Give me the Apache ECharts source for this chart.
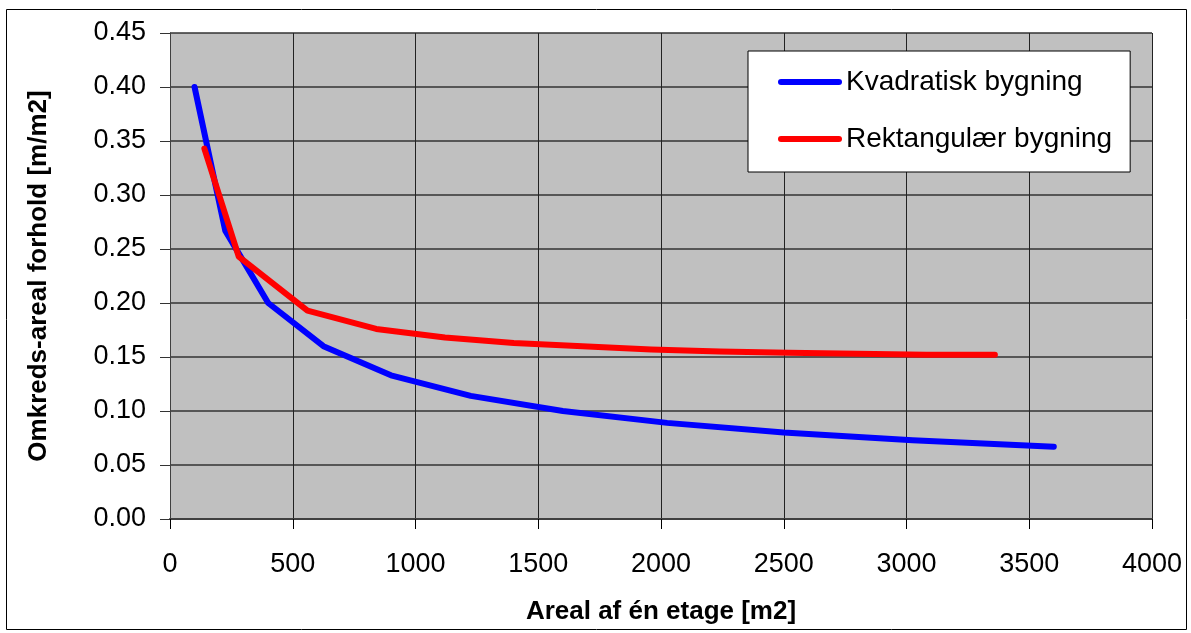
<!DOCTYPE html>
<html>
<head>
<meta charset="utf-8">
<script src="https://cdn.jsdelivr.net/npm/echarts@6/dist/echarts.min.js"></script>
<style>
html,body{margin:0;padding:0;background:#fff;}
#c{width:1191px;height:633px;}
</style>
</head>
<body>
<div id="c"></div>
<script>
const squareArea = [100, 225, 400, 625, 900, 1225, 1600, 2025, 2500, 3025, 3600];
const squareRatio = [0.400, 0.267, 0.200, 0.160, 0.133, 0.114, 0.100, 0.089, 0.080, 0.073, 0.067];
const rectArea = [140, 280, 560, 840, 1120, 1400, 1680, 1960, 2240, 2520, 2800, 3080, 3360];
const rectRatio = [0.343, 0.243, 0.193, 0.176, 0.168, 0.163, 0.160, 0.157, 0.155, 0.154, 0.153, 0.152, 0.152];
const seriesNames = ['Kvadratisk bygning', 'Rektangulær bygning'];
const xTitle = 'Areal af én etage [m2]';
const yTitle = 'Omkreds-areal forhold [m/m2]';

const font = '"Liberation Sans", Arial, sans-serif';
const chart = echarts.init(document.getElementById('c'), null, {renderer: 'canvas'});
chart.setOption({
  animation: false,
  backgroundColor: '#fff',
  textStyle: {fontFamily: font},
  graphic: [{
    type: 'rect', silent: true, z: -10,
    shape: {x: 6.5, y: 9.5, width: 1180, height: 620},
    style: {fill: 'none', stroke: '#000', lineWidth: 1}
  }],
  grid: {left: 170, right: 39, top: 33, bottom: 114, show: true, backgroundColor: '#C0C0C0', borderWidth: 0,
         containLabel: false, outerBoundsMode: 'none'},
  legend: {
    left: 748, top: 51, orient: 'vertical',
    backgroundColor: '#fff', borderColor: '#000', borderWidth: 1,
    padding: [17, 18, 19, 30],
    itemWidth: 58, itemHeight: 28, itemGap: 29,
    textStyle: {fontSize: 28, color: '#000', fontFamily: font, padding: [0, 0, 0, 2]},
    lineStyle: {width: 6, cap: 'round'},
    itemStyle: {opacity: 0},
    data: seriesNames
  },
  xAxis: {
    type: 'value', min: 0, max: 4000, interval: 500,
    name: xTitle, nameLocation: 'middle', nameGap: 80,
    nameTextStyle: {fontSize: 26, fontWeight: 'bold', color: '#000', fontFamily: font},
    axisLine: {show: true, lineStyle: {color: '#404040', width: 2}},
    axisTick: {show: true, length: 10, lineStyle: {color: '#000'}},
    axisLabel: {fontSize: 27, color: '#000', margin: 32, fontFamily: font, formatter: v => String(v)},
    splitLine: {show: true, lineStyle: {color: '#222', width: 1}}
  },
  yAxis: {
    type: 'value', min: 0, max: 0.45, interval: 0.05,
    name: yTitle, nameLocation: 'middle', nameGap: 118, nameRotate: 90,
    nameTextStyle: {fontSize: 26, fontWeight: 'bold', color: '#000', fontFamily: font},
    axisLine: {show: true, lineStyle: {color: '#404040', width: 1}},
    axisTick: {show: true, length: 10, lineStyle: {color: '#333'}},
    axisLabel: {fontSize: 27, color: '#000', margin: 24, fontFamily: font, formatter: v => v.toFixed(2)},
    splitLine: {show: true, lineStyle: {color: '#333', width: 1.5}}
  },
  series: [
    {
      name: seriesNames[0], type: 'line', showSymbol: false, symbol: 'none',
      data: squareArea.map((a, i) => [a, squareRatio[i]]),
      lineStyle: {color: '#0000FF', width: 6, cap: 'round', join: 'round'},
      itemStyle: {color: '#0000FF'}
    },
    {
      name: seriesNames[1], type: 'line', showSymbol: false, symbol: 'none',
      data: rectArea.map((a, i) => [a, rectRatio[i]]),
      lineStyle: {color: '#FF0000', width: 6, cap: 'round', join: 'round'},
      itemStyle: {color: '#FF0000'}
    }
  ]
});
</script>
</body>
</html>
